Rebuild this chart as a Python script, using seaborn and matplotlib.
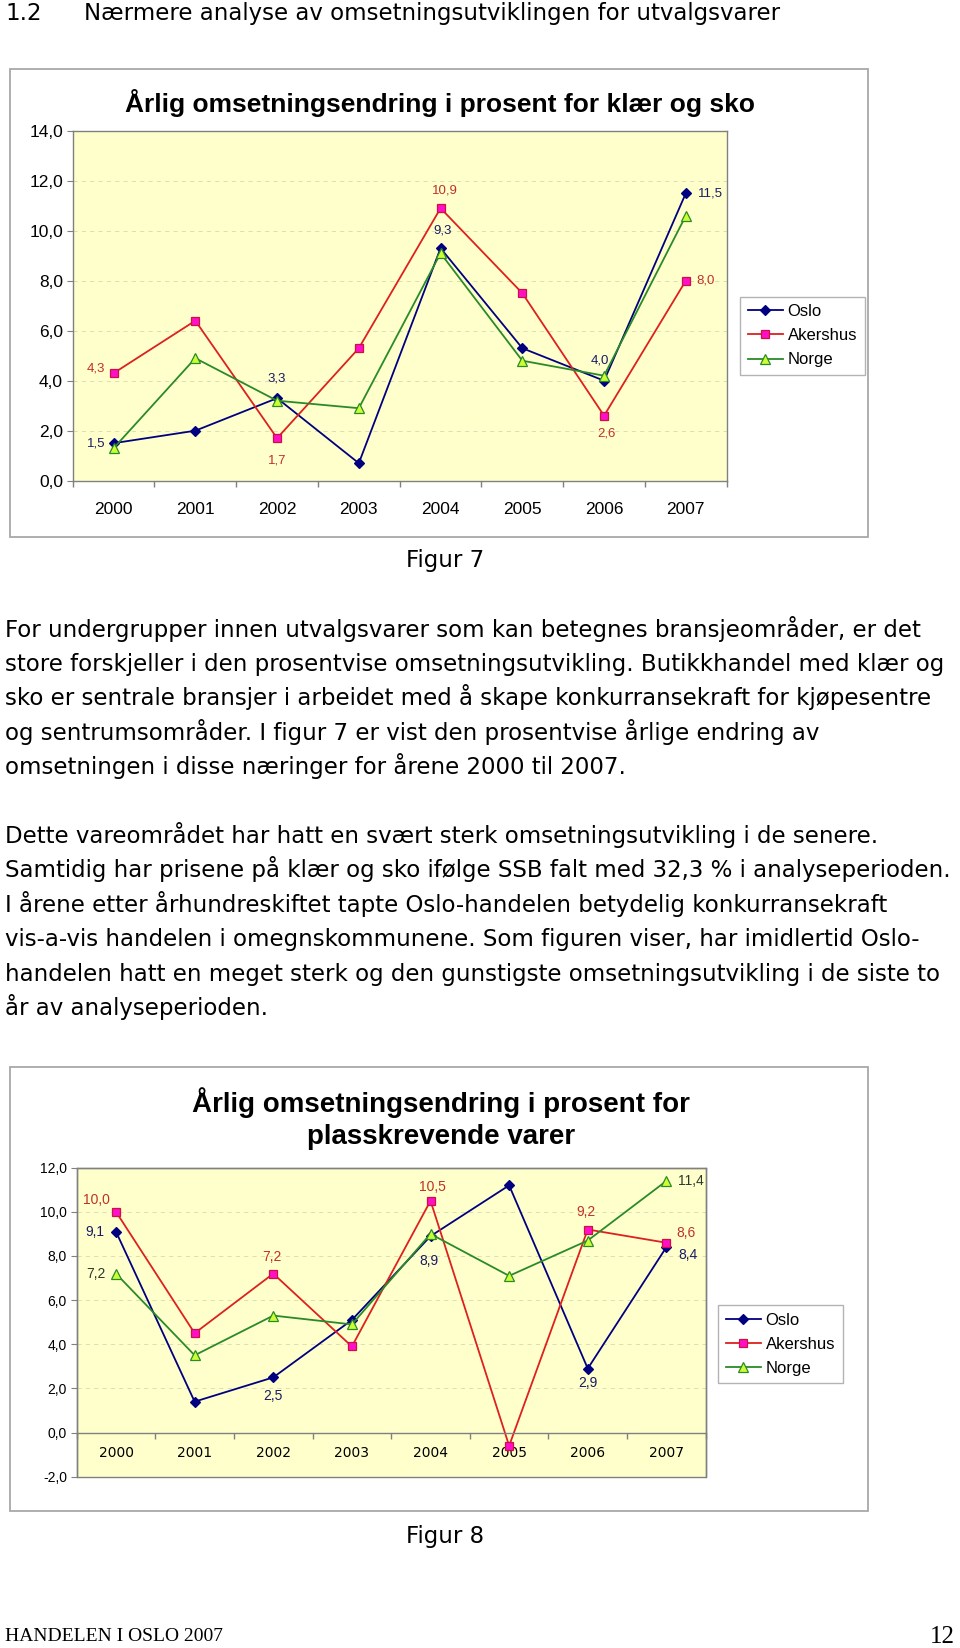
import numpy as np
import matplotlib
matplotlib.use("Agg")
import matplotlib.pyplot as plt
from matplotlib.patches import Rectangle
from matplotlib.ticker import FuncFormatter
import seaborn as sns

# ---- data -------------------------------------------------------------
years = ["2000", "2001", "2002", "2003", "2004", "2005", "2006", "2007"]

# Figur 7: klær og sko
klaer_oslo = [1.5, 2.0, 3.3, 0.7, 9.3, 5.3, 4.0, 11.5]
klaer_akershus = [4.3, 6.4, 1.7, 5.3, 10.9, 7.5, 2.6, 8.0]
klaer_norge = [1.3, 4.9, 3.2, 2.9, 9.1, 4.8, 4.2, 10.6]

# Figur 8: plasskrevende varer
plass_oslo = [9.1, 1.4, 2.5, 5.1, 8.9, 11.2, 2.9, 8.4]
plass_akershus = [10.0, 4.5, 7.2, 3.9, 10.5, -0.6, 9.2, 8.6]
plass_norge = [7.2, 3.5, 5.3, 4.9, 9.0, 7.1, 8.7, 11.4]

title_7 = "Årlig omsetningsendring i prosent for klær og sko"
title_8 = "Årlig omsetningsendring i prosent for\nplasskrevende varer"

header_num = "1.2"
header_text = "Nærmere analyse av omsetningsutviklingen for utvalgsvarer"

para_1 = [
    "For undergrupper innen utvalgsvarer som kan betegnes bransjeområder, er det",
    "store forskjeller i den prosentvise omsetningsutvikling. Butikkhandel med klær og",
    "sko er sentrale bransjer i arbeidet med å skape konkurransekraft for kjøpesentre",
    "og sentrumsområder. I figur 7 er vist den prosentvise årlige endring av",
    "omsetningen i disse næringer for årene 2000 til 2007.",
]
para_2 = [
    "Dette vareområdet har hatt en svært sterk omsetningsutvikling i de senere.",
    "Samtidig har prisene på klær og sko ifølge SSB falt med 32,3 % i analyseperioden.",
    "I årene etter århundreskiftet tapte Oslo-handelen betydelig konkurransekraft",
    "vis-a-vis handelen i omegnskommunene. Som figuren viser, har imidlertid Oslo-",
    "handelen hatt en meget sterk og den gunstigste omsetningsutvikling i de siste to",
    "år av analyseperioden.",
]

# ---- styles -----------------------------------------------------------
STYLE = {
    "Oslo": dict(color="#000080", marker="D", markersize=5.5,
                 markerfacecolor="#000080", markeredgecolor="#000080", text="#1a1a66"),
    "Akershus": dict(color="#dd2020", marker="s", markersize=6,
                     markerfacecolor="#ff10c8", markeredgecolor="#cc1040", text="#c0302a"),
    "Norge": dict(color="#2a8a2a", marker="^", markersize=7,
                  markerfacecolor="#ccff33", markeredgecolor="#2a8a2a", text="#2c3a2c"),
}

# value labels: (series, year index, dx px, dy px, ha)
labels_7 = [
    ("Oslo", 0, -8, 0, "right"), ("Oslo", 2, 0, 20, "center"),
    ("Oslo", 4, 2, 18, "center"), ("Oslo", 6, -4, 20, "center"),
    ("Oslo", 7, 12, 0, "left"),
    ("Akershus", 0, -9, 5, "right"), ("Akershus", 2, 0, -22, "center"),
    ("Akershus", 4, 4, 18, "center"), ("Akershus", 6, 2, -18, "center"),
    ("Akershus", 7, 11, 0, "left"),
]
labels_8 = [
    ("Oslo", 0, -12, 0, "right"), ("Oslo", 2, 0, -19, "center"),
    ("Oslo", 4, -2, -25, "center"), ("Oslo", 6, 0, -14, "center"),
    ("Oslo", 7, 12, -8, "left"),
    ("Akershus", 0, -20, 12, "center"), ("Akershus", 2, -1, 17, "center"),
    ("Akershus", 4, 2, 14, "center"), ("Akershus", 6, -2, 17, "center"),
    ("Akershus", 7, 20, 10, "center"),
    ("Norge", 0, -10, 0, "right"), ("Norge", 7, 12, 0, "left"),
]

W, H = 960, 1648
plt.rcParams["axes.unicode_minus"] = False
CHART_FONT = ["Liberation Sans", "DejaVu Sans"]
BODY_FONT = ["DejaVu Sans"]
BODY_SIZE = 16.5


def fx(x):
    return x / W


def fy(y):
    return 1 - y / H


def axes_at(fig, left, top, right, bottom):
    return fig.add_axes([fx(left), fy(bottom), (right - left) / W, (bottom - top) / H])


def comma(v, _=None):
    return f"{v:.1f}".replace(".", ",")


def draw_chart(ax, series, ylim, labels, tick_size, label_size, xpad, zero_axis):
    x = np.arange(len(years))
    for name, vals in series.items():
        st = {k: v for k, v in STYLE[name].items() if k != "text"}
        sns.lineplot(x=x, y=vals, ax=ax, label=name, linewidth=1.3,
                     markeredgewidth=0.9, **st)
    if ax.get_legend() is not None:
        ax.get_legend().remove()

    ax.set_xlim(-0.5, len(years) - 0.5)
    ax.set_ylim(*ylim)
    ax.set_facecolor("#ffffcc")
    ax.set_xlabel("")
    ax.set_ylabel("")
    ax.set_yticks(np.arange(ylim[0], ylim[1] + 0.1, 2))
    ax.yaxis.set_major_formatter(FuncFormatter(comma))
    ax.set_xticks(x)
    ax.set_xticklabels(years)
    ax.set_xticks(np.arange(-0.5, len(years), 1), minor=True)
    ax.tick_params(axis="x", which="major", length=0, pad=xpad,
                   labelsize=tick_size)
    ax.tick_params(axis="x", which="minor", length=4, direction="out",
                   color="#808080", width=1)
    ax.tick_params(axis="y", length=4, direction="out", color="#808080",
                   labelsize=tick_size, pad=3)
    for lab in ax.get_xticklabels() + ax.get_yticklabels():
        lab.set_family(CHART_FONT)
    ax.yaxis.grid(True, linestyle=(0, (5, 5)), color="#d8d8b0", linewidth=0.6)
    ax.set_axisbelow(True)
    for sp in ax.spines.values():
        sp.set_color("#808080")
        sp.set_linewidth(1.0)
    if zero_axis:
        ax.spines["bottom"].set_position(("data", 0))
        ax.add_patch(Rectangle((0, 0), 1, 1, transform=ax.transAxes, fill=False,
                               edgecolor="#808080", linewidth=1.0, zorder=5,
                               clip_on=False))

    for name, i, dx, dy, ha in labels:
        v = series[name][i]
        ax.annotate(comma(v), (i, v), xytext=(dx, dy), textcoords="offset pixels",
                    ha=ha, va="center", fontsize=label_size,
                    color=STYLE[name]["text"], family=CHART_FONT,
                    annotation_clip=False)


def add_legend(ax, fig, left, cy, fontsize):
    handles, names = ax.get_legend_handles_labels()
    leg = ax.legend(handles, names, loc="center left",
                    bbox_to_anchor=(fx(left), fy(cy)), bbox_transform=fig.transFigure,
                    frameon=True, fancybox=False, edgecolor="#a0a0a0",
                    prop={"family": CHART_FONT, "size": fontsize},
                    handlelength=2.1, handletextpad=0.3, labelspacing=0.55,
                    borderpad=0.45, borderaxespad=0)
    leg.get_frame().set_linewidth(1.0)


def frame(fig, left, top, right, bottom):
    fig.add_artist(Rectangle((fx(left), fy(bottom)), (right - left) / W,
                             (bottom - top) / H, transform=fig.transFigure,
                             fill=False, edgecolor="#a8a8a8", linewidth=1.3))


def body_lines(fig, lines, first_y, step, size):
    for k, line in enumerate(lines):
        fig.text(fx(5), fy(first_y + k * step + 6), line, ha="left",
                 va="baseline", fontsize=size, family=BODY_FONT, color="black")


def main():
    fig = plt.figure(figsize=(W / 100, H / 100), dpi=100)
    fig.patch.set_facecolor("white")

    # header
    fig.text(fx(5), fy(20), header_num, fontsize=16.5, family=BODY_FONT, va="baseline")
    fig.text(fx(84), fy(20), header_text, fontsize=16.5, family=BODY_FONT, va="baseline")

    # Figur 7
    frame(fig, 10, 69, 868, 537)
    ax1 = axes_at(fig, 72.7, 130.7, 726.7, 480.7)
    draw_chart(ax1, {"Oslo": klaer_oslo, "Akershus": klaer_akershus, "Norge": klaer_norge},
               (0, 14), labels_7, 12.5, 9.5, 15, False)
    add_legend(ax1, fig, 740, 335.7, 12)
    fig.text(fx(440), fy(103), title_7, ha="center", va="center", fontsize=19,
             fontweight="bold", family=CHART_FONT)
    fig.text(fx(445), fy(561), "Figur 7", ha="center", va="center", fontsize=BODY_SIZE,
             family=BODY_FONT)

    body_lines(fig, para_1, 631, 34.2, BODY_SIZE)
    body_lines(fig, para_2, 837, 34.4, BODY_SIZE)

    # Figur 8
    frame(fig, 10, 1067, 868, 1511)
    ax2 = axes_at(fig, 76.7, 1167.7, 705.7, 1476.7)
    draw_chart(ax2, {"Oslo": plass_oslo, "Akershus": plass_akershus, "Norge": plass_norge},
               (-2, 12), labels_8, 10, 10, 10, True)
    add_legend(ax2, fig, 718, 1344.3, 12)
    fig.text(fx(441), fy(1119), title_8, ha="center", va="center", fontsize=20,
             fontweight="bold", family=CHART_FONT, linespacing=1.3)
    fig.text(fx(445), fy(1536), "Figur 8", ha="center", va="center", fontsize=BODY_SIZE,
             family=BODY_FONT)

    # footer
    fig.text(fx(5), fy(1641), "HANDELEN I OSLO 2007", fontsize=14,
             family=["Liberation Serif"], va="baseline")
    fig.text(fx(955), fy(1643), "12", fontsize=18, family=["Liberation Serif"],
             va="baseline", ha="right")

    fig.savefig("out.png", dpi=100)


if __name__ == "__main__":
    main()
